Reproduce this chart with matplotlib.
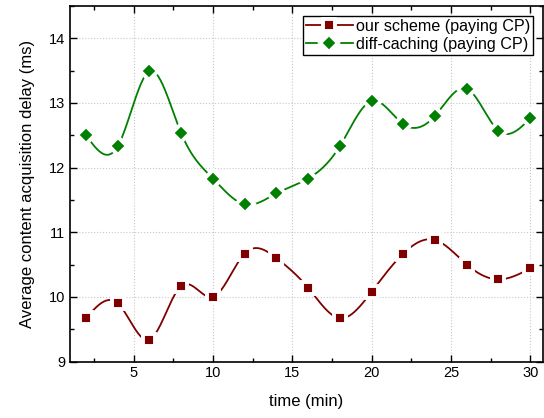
import numpy as np
import matplotlib.pyplot as plt
from matplotlib.ticker import MultipleLocator

plt.rcParams['font.family'] = ['Liberation Sans', 'DejaVu Sans']

time_min = [2, 4, 6, 8, 10, 12, 14, 16, 18, 20, 22, 24, 26, 28, 30]
our_scheme = [9.67, 9.90, 9.34, 10.17, 10.00, 10.67, 10.60, 10.14, 9.67,
              10.08, 10.67, 10.88, 10.50, 10.27, 10.44]
diff_caching = [12.50, 12.33, 13.49, 12.53, 11.83, 11.43, 11.60, 11.83, 12.33,
                13.03, 12.67, 12.80, 13.22, 12.57, 12.76]


def spline(x, y, n=400):
    # natural cubic spline through the points
    x = np.asarray(x, float)
    y = np.asarray(y, float)
    k = len(x)
    h = np.diff(x)
    A = np.zeros((k, k))
    b = np.zeros(k)
    A[0, 0] = A[-1, -1] = 1
    for i in range(1, k - 1):
        A[i, i - 1] = h[i - 1]
        A[i, i] = 2 * (h[i - 1] + h[i])
        A[i, i + 1] = h[i]
        b[i] = 6 * ((y[i + 1] - y[i]) / h[i] - (y[i] - y[i - 1]) / h[i - 1])
    m = np.linalg.solve(A, b)
    xs = np.linspace(x[0], x[-1], n)
    idx = np.clip(np.searchsorted(x, xs) - 1, 0, k - 2)
    t = xs - x[idx]
    hi = h[idx]
    a = (m[idx + 1] - m[idx]) / (6 * hi)
    c = (y[idx + 1] - y[idx]) / hi - hi * (2 * m[idx] + m[idx + 1]) / 6
    ys = y[idx] + c * t + m[idx] / 2 * t ** 2 + a * t ** 3
    return xs, ys


fig = plt.figure(figsize=(5.44, 4.18), dpi=100)
ax = fig.add_axes([0.129, 0.135, 0.869, 0.851])

series = [
    (our_scheme, '#800000', 's', 9.0, 'our scheme (paying CP)'),
    (diff_caching, '#008000', 'D', 9.2, 'diff-caching (paying CP)'),
]
for vals, col, mk, ms, lab in series:
    xs, ys = spline(time_min, vals)
    ax.plot(xs, ys, color=col, lw=1.3, zorder=2)
    ax.plot(time_min, vals, ls='none', marker=mk, ms=ms, mfc=col,
            mec='white', mew=2.8, zorder=3)
    ax.plot([], [], color=col, lw=1.3, marker=mk, ms=ms, mfc=col,
            mec='white', mew=2.8, label=lab)

ax.set_xlim(1, 30.8)
ax.set_ylim(9, 14.5)
ax.xaxis.set_major_locator(MultipleLocator(5))
ax.xaxis.set_minor_locator(MultipleLocator(2.5))
ax.yaxis.set_major_locator(MultipleLocator(1))
ax.yaxis.set_minor_locator(MultipleLocator(0.5))
ax.tick_params(which='both', direction='in', top=True, right=True,
               labelsize=10.5, width=1)
ax.tick_params(which='major', length=5)
ax.tick_params(which='minor', length=3)
ax.grid(True, which='major', ls=':', color='#c8c8c8', lw=0.8)
for s in ax.spines.values():
    s.set_linewidth(1.2)

ax.set_xlabel('time (min)', fontsize=12, labelpad=10)
ax.set_ylabel('Average content acquisition delay (ms)', fontsize=12, labelpad=10)

leg = ax.legend(loc='upper right', fontsize=11.6, fancybox=False, framealpha=1,
                edgecolor='black', borderpad=0.2, handlelength=2.9,
                handletextpad=0.2, labelspacing=0.2, borderaxespad=0.6)
leg.get_frame().set_linewidth(1)

fig.savefig('out.png', dpi=100)
